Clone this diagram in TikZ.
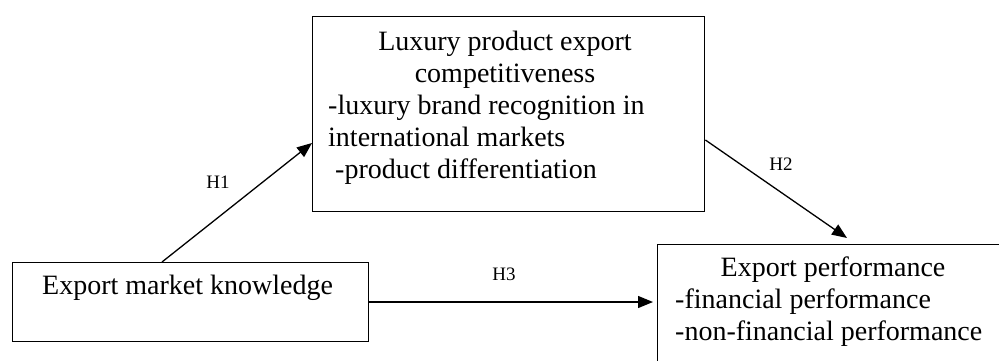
\documentclass[tikz,border=0pt]{standalone}
\usepackage{fontspec}
\setmainfont{Liberation Serif}
\usetikzlibrary{arrows.meta}

\tikzset{
  box/.style={draw=black, line width=1.4pt, fill=none, inner sep=0pt, anchor=north west},
  line/.style={inner sep=0pt, font=\fontsize{28}{32}\selectfont},
  hyp/.style={inner sep=0pt, anchor=base, font=\fontsize{19}{22}\selectfont},
  arr/.style={draw=black, line width=1.3pt, -{Triangle[length=15pt,width=12pt]}}
}

\begin{document}
\begin{tikzpicture}[x=1pt,y=-1pt]
  \useasboundingbox (0,0) rectangle (999,360);
  \clip (0,0) rectangle (999,360);

  % boxes
  \node[box, minimum width=392pt, minimum height=195pt] (lux) at (312,16) {};
  \node[box, minimum width=356pt, minimum height=79pt] (emk) at (12,262) {};
  \node[box, minimum width=353pt, minimum height=140pt] (perf) at (657,244) {};

  % competitiveness box text
  \node[line, anchor=base] (lux1) at (505,50) {Luxury product export};
  \node[line, anchor=base] (lux2) at (505,82) {competitiveness};
  \node[line, anchor=base west] (lux3) at (328,114) {-luxury brand recognition in};
  \node[line, anchor=base west] (lux4) at (328,146) {international markets};
  \node[line, anchor=base west] (lux5) at (335,178) {-product differentiation};

  % knowledge box text
  \node[line, anchor=base west] (emk1) at (42,294) {Export market knowledge};

  % performance box text
  \node[line, anchor=base] (perf1) at (833,276) {Export performance};
  \node[line, anchor=base west] (perf2) at (675,308) {-financial performance};
  \node[line, anchor=base west] (perf3) at (675,340) {-non-financial performance};

  % hypotheses
  \coordinate (h1s) at ([xshift=150pt]emk.north west);
  \coordinate (h1e) at ([yshift=-127pt]lux.north west);
  \coordinate (h2s) at ([yshift=-124pt]lux.north east);
  \coordinate (h2e) at ([xshift=190pt, yshift=6pt]perf.north west);
  \coordinate (h3s) at ([yshift=-40pt]emk.north east);
  \coordinate (h3e) at ([xshift=-4pt]h3s -| perf.west);

  \draw[arr] (h1s) -- (h1e);
  \draw[arr] (h2s) -- (h2e);
  \draw[arr] (h3s) -- (h3e);

  \node[hyp] (H1) at (218,188) {H1};
  \node[hyp] (H2) at (781,170) {H2};
  \node[hyp] (H3) at (504,280) {H3};
\end{tikzpicture}
\end{document}
